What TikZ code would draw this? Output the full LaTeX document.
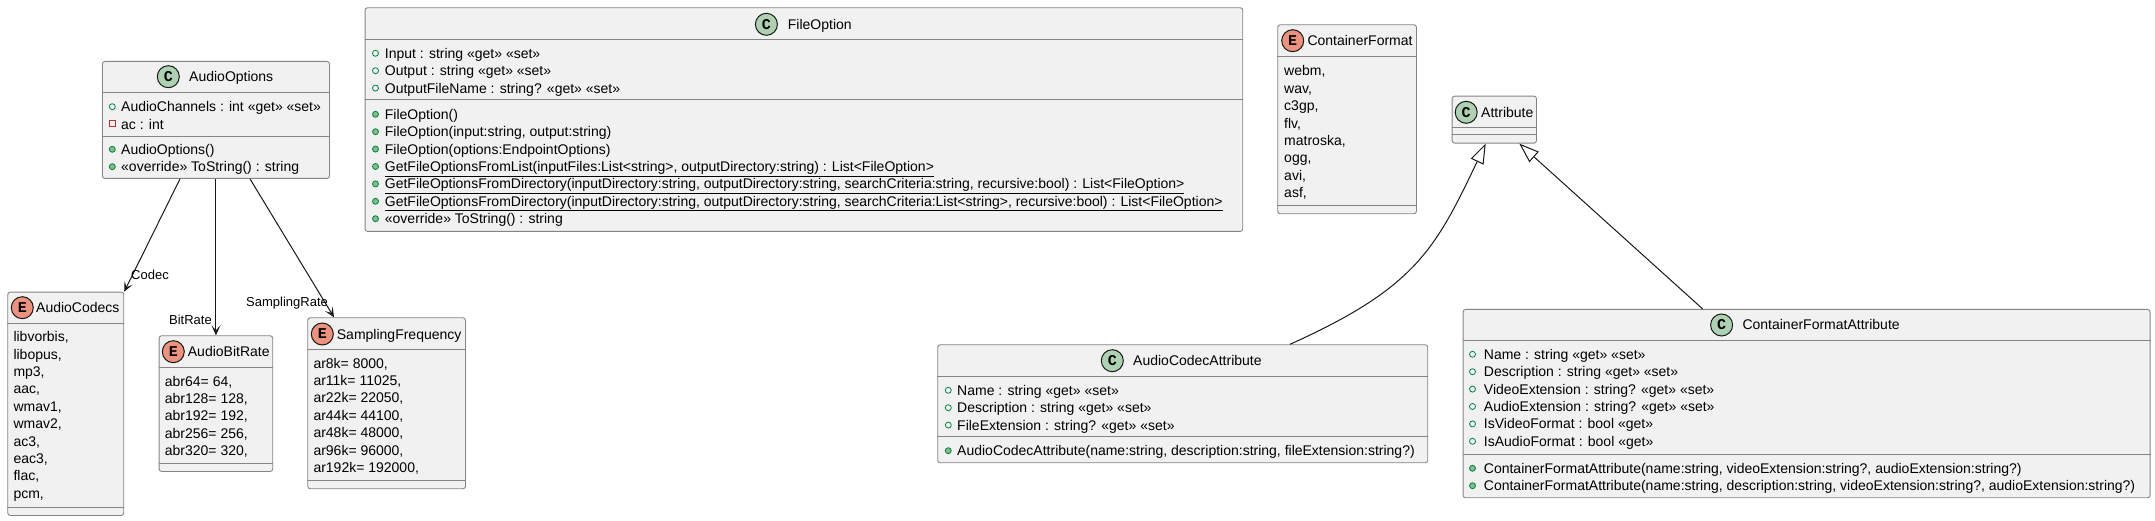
\documentclass[tikz,border=0pt]{standalone}
\usepackage{fontspec}
\setmainfont{Liberation Sans}
\newfontfamily\iconfont{Liberation Mono}
\usetikzlibrary{calc,arrows.meta}

\definecolor{boxfill}{HTML}{F1F1F1}
\definecolor{boxline}{HTML}{181818}
\definecolor{boxedge}{HTML}{858585}
\definecolor{classgreen}{HTML}{ADD1B2}
\definecolor{enumred}{HTML}{EB937F}
\definecolor{publine}{HTML}{038048}
\definecolor{pubfill}{HTML}{84BE84}
\definecolor{privline}{HTML}{C82930}

\tikzset{
  umlbox/.style={rectangle, draw=boxedge, fill=boxfill, line width=0.9pt,
    rounded corners=2.5pt, inner sep=0pt, anchor=north west},
  sepline/.style={draw=boxedge, line width=0.9pt},
  member/.style={anchor=base west, inner sep=0pt, font=\fontsize{14}{17}\selectfont},
  umltitle/.style={anchor=base west, inner sep=0pt, font=\fontsize{14}{17}\selectfont},
  cicon/.style={circle, draw=boxline, line width=1pt, fill=classgreen, minimum size=22pt,
    inner sep=0pt, font=\iconfont\bfseries\fontsize{15}{15}\selectfont},
  eicon/.style={cicon, fill=enumred},
  pubfield/.style={draw=publine, line width=0.8pt},
  pubmethod/.style={draw=publine, fill=pubfill, line width=0.8pt},
  privfield/.style={draw=privline, line width=0.8pt},
  edgelabel/.style={inner sep=0pt, font=\fontsize{13}{15}\selectfont},
  assoc/.style={draw=boxline, line width=1pt, -{Stealth[length=10pt, width=9pt, inset=5pt]}},
  inherit/.style={draw=boxline, line width=1pt,
    -{Triangle[open, length=20pt, width=14pt, fill=white]}}
}

\begin{document}
\begin{tikzpicture}[x=1pt, y=-1pt]
  \useasboundingbox (0,0) rectangle (2155,521);

  % AudioOptions
  \node[umlbox, minimum width=227pt, minimum height=117pt] (ao) at (102,61) {};
  \draw[sepline] ($(ao.north west)+(0,31)$) -- ($(ao.north east)+(0,31)$);
  \draw[sepline] ($(ao.north west)+(0,75)$) -- ($(ao.north east)+(0,75)$);
  \node[cicon] (aoIcon) at (168.3,76.7) {C};
  \node[umltitle] (aoTitle) at (189,81.7) {AudioOptions};
  \draw[pubfield] (112.3,106.7) circle (3pt);
  \draw[privfield] (109.3,120.9) rectangle (115.3,126.9);
  \fill[pubmethod] (112.3,149.3) circle (3pt);
  \fill[pubmethod] (112.3,166.7) circle (3pt);
  \node[member] (ao1) at (121,111.7) {AudioChannels : int «get» «set»};
  \node[member] (ao2) at (121,129.1) {ac : int};
  \node[member] (ao3) at (121,154.3) {AudioOptions()};
  \node[member] (ao4) at (121,171.7) {«override» ToString() : string};

  % FileOption
  \node[umlbox, minimum width=877.7pt, minimum height=223.7pt] (fo) at (364.6,7.3) {};
  \draw[sepline] ($(fo.north west)+(0,32.4)$) -- ($(fo.north east)+(0,32.4)$);
  \draw[sepline] ($(fo.north west)+(0,92)$) -- ($(fo.north east)+(0,92)$);
  \node[cicon] (foIcon) at (766.4,24.3) {C};
  \node[umltitle] (foTitle) at (787.7,29.3) {FileOption};
  \draw[pubfield] (375.5,53.3) circle (3pt);
  \draw[pubfield] (375.5,70.7) circle (3pt);
  \draw[pubfield] (375.5,88.1) circle (3pt);
  \fill[pubmethod] (375.5,114.3) circle (3pt);
  \fill[pubmethod] (375.5,131.7) circle (3pt);
  \fill[pubmethod] (375.5,149.1) circle (3pt);
  \fill[pubmethod] (375.5,166.5) circle (3pt);
  \fill[pubmethod] (375.5,183.9) circle (3pt);
  \fill[pubmethod] (375.5,201.3) circle (3pt);
  \fill[pubmethod] (375.5,218.7) circle (3pt);
  \node[member] (fo1) at (384.7,58.3) {Input : string «get» «set»};
  \node[member] (fo2) at (384.7,75.7) {Output : string «get» «set»};
  \node[member] (fo3) at (384.7,93.1) {OutputFileName : string? «get» «set»};
  \node[member] (fo4) at (384.7,119.3) {FileOption()};
  \node[member] (fo5) at (384.7,136.7) {FileOption(input:string, output:string)};
  \node[member] (fo6) at (384.7,154.1) {FileOption(options:EndpointOptions)};
  \node[member] (fo7) at (384.7,171.5) {\underline{GetFileOptionsFromList(inputFiles:List<string>, outputDirectory:string) : List<FileOption>}};
  \node[member] (fo8) at (384.7,188.9) {\underline{GetFileOptionsFromDirectory(inputDirectory:string, outputDirectory:string, searchCriteria:string, recursive:bool) : List<FileOption>}};
  \node[member] (fo9) at (384.7,206.3) {\underline{GetFileOptionsFromDirectory(inputDirectory:string, outputDirectory:string, searchCriteria:List<string>, recursive:bool) : List<FileOption>}};
  \node[member] (fo10) at (384.7,223.7) {«override» ToString() : string};

  % ContainerFormat
  \node[umlbox, minimum width=138.7pt, minimum height=189pt] (cf) at (1277.3,24.3) {};
  \draw[sepline] ($(cf.north west)+(0,32.4)$) -- ($(cf.north east)+(0,32.4)$);
  \draw[sepline] ($(cf.north west)+(0,181.4)$) -- ($(cf.north east)+(0,181.4)$);
  \node[eicon] (cfIcon) at (1292.7,40.7) {E};
  \node[umltitle] (cfTitle) at (1307.3,45.7) {ContainerFormat};
  \node[member] (cf1) at (1284,76) {webm,};
  \node[member] (cf2) at (1284,93.4) {wav,};
  \node[member] (cf3) at (1284,110.8) {c3gp,};
  \node[member] (cf4) at (1284,128.2) {flv,};
  \node[member] (cf5) at (1284,145.6) {matroska,};
  \node[member] (cf6) at (1284,163) {ogg,};
  \node[member] (cf7) at (1284,180.4) {avi,};
  \node[member] (cf8) at (1284,197.8) {asf,};

  % Attribute
  \node[umlbox, minimum width=84.3pt, minimum height=47pt] (at) at (1451.7,95.7) {};
  \draw[sepline] ($(at.north west)+(0,31.6)$) -- ($(at.north east)+(0,31.6)$);
  \draw[sepline] ($(at.north west)+(0,38.6)$) -- ($(at.north east)+(0,38.6)$);
  \node[cicon] (atIcon) at (1466.2,112.3) {C};
  \node[umltitle] (atTitle) at (1481,117.3) {Attribute};

  % AudioCodecAttribute
  \node[umlbox, minimum width=490pt, minimum height=118pt] (aca) at (937.3,344.3) {};
  \draw[sepline] ($(aca.north west)+(0,32.4)$) -- ($(aca.north east)+(0,32.4)$);
  \draw[sepline] ($(aca.north west)+(0,92.4)$) -- ($(aca.north east)+(0,92.4)$);
  \node[cicon] (acaIcon) at (1112.3,360.7) {C};
  \node[umltitle] (acaTitle) at (1133,365.7) {AudioCodecAttribute};
  \draw[pubfield] (948.3,390.3) circle (3pt);
  \draw[pubfield] (948.3,407.7) circle (3pt);
  \draw[pubfield] (948.3,425.1) circle (3pt);
  \fill[pubmethod] (948.3,450.7) circle (3pt);
  \node[member] (aca1) at (957,395.3) {Name : string «get» «set»};
  \node[member] (aca2) at (957,412.7) {Description : string «get» «set»};
  \node[member] (aca3) at (957,430.1) {FileExtension : string? «get» «set»};
  \node[member] (aca4) at (957,455.7) {AudioCodecAttribute(name:string, description:string, fileExtension:string?)};

  % ContainerFormatAttribute
  \node[umlbox, minimum width=687pt, minimum height=188.3pt] (cfa) at (1462.6,309) {};
  \draw[sepline] ($(cfa.north west)+(0,31)$) -- ($(cfa.north east)+(0,31)$);
  \draw[sepline] ($(cfa.north west)+(0,145.3)$) -- ($(cfa.north east)+(0,145.3)$);
  \node[cicon] (cfaIcon) at (1721.6,325) {C};
  \node[umltitle] (cfaTitle) at (1742.3,330) {ContainerFormatAttribute};
  \draw[pubfield] (1472.5,354.3) circle (3pt);
  \draw[pubfield] (1472.5,371.7) circle (3pt);
  \draw[pubfield] (1472.5,389.1) circle (3pt);
  \draw[pubfield] (1472.5,406.5) circle (3pt);
  \draw[pubfield] (1472.5,423.9) circle (3pt);
  \draw[pubfield] (1472.5,441.3) circle (3pt);
  \fill[pubmethod] (1472.5,468.3) circle (3pt);
  \fill[pubmethod] (1472.5,485.7) circle (3pt);
  \node[member] (cfa1) at (1483.7,359.3) {Name : string «get» «set»};
  \node[member] (cfa2) at (1483.7,376.7) {Description : string «get» «set»};
  \node[member] (cfa3) at (1483.7,394.1) {VideoExtension : string? «get» «set»};
  \node[member] (cfa4) at (1483.7,411.5) {AudioExtension : string? «get» «set»};
  \node[member] (cfa5) at (1483.7,428.9) {IsVideoFormat : bool «get»};
  \node[member] (cfa6) at (1483.7,446.3) {IsAudioFormat : bool «get»};
  \node[member] (cfa7) at (1483.7,473.3) {ContainerFormatAttribute(name:string, videoExtension:string?, audioExtension:string?)};
  \node[member] (cfa8) at (1483.7,490.7) {ContainerFormatAttribute(name:string, description:string, videoExtension:string?, audioExtension:string?)};

  % AudioCodecs
  \node[umlbox, minimum width=116pt, minimum height=223.3pt] (ac) at (7.3,291.7) {};
  \draw[sepline] ($(ac.north west)+(0,31.6)$) -- ($(ac.north east)+(0,31.6)$);
  \draw[sepline] ($(ac.north west)+(0,216)$) -- ($(ac.north east)+(0,216)$);
  \node[eicon] (acIcon) at (22.3,307.7) {E};
  \node[umltitle] (acTitle) at (36,312.7) {AudioCodecs};
  \node[member] (ac1) at (13.3,341.7) {libvorbis,};
  \node[member] (ac2) at (13.3,359.1) {libopus,};
  \node[member] (ac3) at (13.3,376.5) {mp3,};
  \node[member] (ac4) at (13.3,393.9) {aac,};
  \node[member] (ac5) at (13.3,411.3) {wmav1,};
  \node[member] (ac6) at (13.3,428.7) {wmav2,};
  \node[member] (ac7) at (13.3,446.1) {ac3,};
  \node[member] (ac8) at (13.3,463.5) {eac3,};
  \node[member] (ac9) at (13.3,480.9) {flac,};
  \node[member] (ac10) at (13.3,498.3) {pcm,};

  % AudioBitRate
  \node[umlbox, minimum width=113.6pt, minimum height=135.7pt] (abr) at (158.7,335.3) {};
  \draw[sepline] ($(abr.north west)+(0,32)$) -- ($(abr.north east)+(0,32)$);
  \draw[sepline] ($(abr.north west)+(0,128)$) -- ($(abr.north east)+(0,128)$);
  \node[eicon] (abrIcon) at (173.3,351.7) {E};
  \node[umltitle] (abrTitle) at (187.7,356.7) {AudioBitRate};
  \node[member] (abr1) at (164.7,386) {abr64= 64,};
  \node[member] (abr2) at (164.7,403.4) {abr128= 128,};
  \node[member] (abr3) at (164.7,420.8) {abr192= 192,};
  \node[member] (abr4) at (164.7,438.2) {abr256= 256,};
  \node[member] (abr5) at (164.7,455.6) {abr320= 320,};

  % SamplingFrequency
  \node[umlbox, minimum width=157.7pt, minimum height=171pt] (sf) at (307.3,317.3) {};
  \draw[sepline] ($(sf.north west)+(0,32)$) -- ($(sf.north east)+(0,32)$);
  \draw[sepline] ($(sf.north west)+(0,163.4)$) -- ($(sf.north east)+(0,163.4)$);
  \node[eicon] (sfIcon) at (322.3,334) {E};
  \node[umltitle] (sfTitle) at (336.7,339) {SamplingFrequency};
  \node[member] (sf1) at (313.3,368) {ar8k= 8000,};
  \node[member] (sf2) at (313.3,385.4) {ar11k= 11025,};
  \node[member] (sf3) at (313.3,402.8) {ar22k= 22050,};
  \node[member] (sf4) at (313.3,420.2) {ar44k= 44100,};
  \node[member] (sf5) at (313.3,437.6) {ar48k= 48000,};
  \node[member] (sf6) at (313.3,455) {ar96k= 96000,};
  \node[member] (sf7) at (313.3,472.4) {ar192k= 192000,};

  % Connectors
  \draw[assoc] ($(ao.south west)+(78,0)$) -- (ac.north east);
  \draw[assoc] (ao.south -| abr.north) -- (abr.north);
  \draw[assoc] ($(ao.south west)+(148,0)$) -- ($(sf.north west)+(26.7,0)$);
  \node[edgelabel, anchor=base west] (lCodec) at (131,280) {Codec};
  \node[edgelabel, anchor=base east] (lBitRate) at (212,324) {BitRate};
  \node[edgelabel, anchor=base west] (lSampling) at (246,307) {SamplingRate};
  \draw[inherit] ($(aca.north west)+(352.7,0)$) .. controls (1415,288) and (1435,250) .. ($(at.south west)+(34,0)$);
  \draw[inherit] ($(cfa.north west)+(240.1,0)$) -- ($(at.south west)+(67.6,0)$);
\end{tikzpicture}
\end{document}
